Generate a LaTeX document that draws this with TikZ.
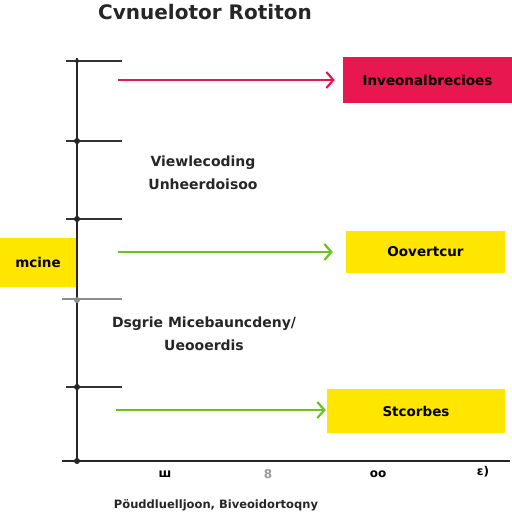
\documentclass[tikz,border=0pt]{standalone}
\usepackage{fontspec}
\setmainfont{DejaVu Sans}
\usetikzlibrary{arrows.meta}
\definecolor{cred}{HTML}{E8174F}
\definecolor{cyel}{HTML}{FFE600}
\definecolor{cgrn}{HTML}{6CC21C}
\begin{document}
\begin{tikzpicture}[x=1pt,y=-1pt,
  axisline/.style={line width=1.5pt,black!85},
  tickline/.style={line width=1.1pt,black!80},
  arrline/.style={line width=2.2pt,-{Straight Barb[length=7pt,width=16pt,line width=2.2pt]}},
  boxnode/.style={inner sep=0pt,font=\bfseries\fontsize{13.5}{15}\selectfont},
  midtext/.style={align=center,font=\bfseries\fontsize{14}{23}\selectfont,text=black!85},
  ticklabel/.style={font=\bfseries\fontsize{12}{14}\selectfont},
  dotmark/.style={fill=black!85,circle,inner sep=0pt,minimum size=6pt}]
\useasboundingbox (0,0) rectangle (512,512);
\fill[white] (0,0) rectangle (512,512);
% title
\node[inner sep=0pt,font=\bfseries\fontsize{20}{24}\selectfont,text=black!85] (title) at (205,12) {Cvnuelotor Rotiton};
% axes
\coordinate (ytop) at (77,58);
\coordinate (orig) at (77,461);
\coordinate (xstart) at (62,461);
\coordinate (xend) at (510,461);
\draw[axisline] (ytop) -- (orig);
\draw[axisline] (xstart) -- (xend);
% ticks
\coordinate (t1a) at (66,61);  \coordinate (t1b) at (122,61);
\coordinate (t2a) at (66,141); \coordinate (t2b) at (122,141);
\coordinate (t3a) at (66,219); \coordinate (t3b) at (122,219);
\coordinate (t4a) at (62,299); \coordinate (t4b) at (122,299);
\coordinate (t5a) at (66,387); \coordinate (t5b) at (122,387);
\draw[tickline] (t1a) -- (t1b);
\draw[tickline] (t2a) -- (t2b);
\draw[tickline] (t3a) -- (t3b);
\draw[tickline,black!45] (t4a) -- (t4b);
\draw[tickline] (t5a) -- (t5b);
\node[dotmark,minimum size=4pt] (d1) at (77,61) {};
\node[dotmark] (d2) at (77,141) {};
\node[dotmark] (d3) at (77,219) {};
\node[dotmark,fill=black!45] (d4) at (77,300) {};
\node[dotmark] (d5) at (77,387) {};
\node[dotmark] (d6) at (77,461) {};
% boxes
\node[boxnode,fill=cred,minimum width=169pt,minimum height=46pt] (bred) at (427.5,80) {Inveonalbrecioes};
\node[boxnode,fill=cyel,minimum width=159pt,minimum height=42pt] (byel1) at (425.5,252) {Oovertcur};
\node[boxnode,fill=cyel,minimum width=76pt,minimum height=49pt] (bleft) at (38,262.5) {mcine};
\node[boxnode,fill=cyel,minimum width=178pt,minimum height=44pt] (byel2) at (416,411) {Stcorbes};
% arrows
\coordinate (a1) at (118,80);
\coordinate (a2) at (118,252);
\coordinate (a3) at (116,410);
\draw[arrline,cred,shorten >=8pt] (a1) -- (bred.west |- a1);
\draw[arrline,cgrn,shorten >=13pt] (a2) -- (byel1.west |- a2);
\draw[arrline,cgrn,shorten >=1pt] (a3) -- (byel2.west |- a3);
% middle texts
\node[midtext] (m1) at (203,173) {Viewlecoding\\Unheerdoisoo};
\node[midtext] (m2) at (204,334) {Dsgrie Micebauncdeny/\\Ueooerdis};
% x tick labels
\node[ticklabel] (x1) at (165,474) {ш};
\node[ticklabel,text=black!40] (x2) at (268,474) {8};
\node[ticklabel] (x3) at (378,474) {oo};
\node[ticklabel] (x4) at (483,472) {ɛ)};
% bottom label
\node[font=\bfseries\fontsize{11.5}{14}\selectfont,text=black!85] (xlabel) at (216,505) {Pöuddluelljoon, Biveoidortoqny};
\end{tikzpicture}
\end{document}
